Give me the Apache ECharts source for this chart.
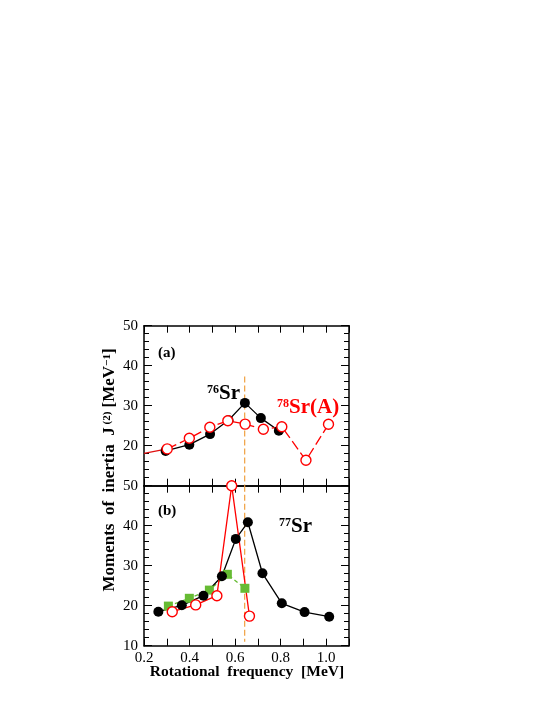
<!DOCTYPE html>
<html>
<head>
<meta charset="utf-8">
<script src="https://cdn.jsdelivr.net/npm/echarts@6/dist/echarts.min.js"></script>
<style>
  html, body { margin: 0; padding: 0; background: #fff; }
  #chart { width: 545px; height: 705px; }
</style>
</head>
<body>
<div id="chart"></div>
<script>
// panel (a): 76Sr and 78Sr(A)
const sr76Freq = [0.295, 0.399, 0.490, 0.571, 0.643, 0.713, 0.792]
const sr76J2 = [18.7, 20.25, 22.9, 26.35, 30.7, 26.9, 23.75]
const sr78Freq = [0.302, 0.399, 0.489, 0.568, 0.644, 0.724, 0.805, 0.911, 1.010]
const sr78J2 = [19.2, 21.85, 24.6, 26.25, 25.4, 24.1, 24.75, 16.35, 25.35]
const leadFreq = [0.2, 0.302]
const leadJ2 = [18.1, 19.2]

// panel (b): 77Sr bands
const sr77Freq = [0.263, 0.366, 0.461, 0.542, 0.603, 0.656, 0.720, 0.805, 0.905, 1.013]
const sr77J2 = [18.5, 20.1, 22.5, 27.35, 36.7, 40.85, 28.1, 20.6, 18.4, 17.25]
const redBFreq = [0.324, 0.427, 0.520, 0.585, 0.663]
const redBJ2 = [18.5, 20.2, 22.5, 50.0, 17.4]
const greenFreq = [0.307, 0.399, 0.487, 0.566, 0.643]
const greenJ2 = [19.9, 21.85, 23.9, 27.85, 24.35]

// orange marker line
const markFreq = 0.642
const markTopJ2 = [37.3, 10]
const markBotJ2 = [50, 11]

const xTicks = [0.2, 0.4, 0.6, 0.8, 1.0]

const FONT = 'Liberation Serif'
const zip = (xs, ys) => xs.map((x, i) => [x, ys[i]])

const chart = echarts.init(document.getElementById('chart'))

const frame = { show: true, lineStyle: { color: '#000', width: 1.5 } }

const mkX = (grid, pos, labels) => ({
  type: 'value', gridIndex: grid, position: pos, min: 0.2, max: 1.1, interval: 0.1,
  axisLine: frame,
  axisTick: { show: true, inside: true, length: 7, lineStyle: { color: '#000', width: 1 } },
  axisLabel: {
    show: labels, color: '#000', fontFamily: FONT, fontSize: 15, margin: 5,
    formatter: v => xTicks.some(t => Math.abs(t - v) < 1e-6) ? v.toFixed(1) : ''
  },
  splitLine: { show: false }
})

const mkY = (grid, pos, labels, hideTen) => ({
  type: 'value', gridIndex: grid, position: pos, min: 10, max: 50, interval: 10,
  axisLine: frame,
  axisTick: { show: true, inside: true, length: 8, lineStyle: { color: '#000', width: 1 } },
  minorTick: { show: true, splitNumber: 5, length: 5, lineStyle: { color: '#000', width: 1 } },
  axisLabel: {
    show: labels, color: '#000', fontFamily: FONT, fontSize: 15, margin: 6,
    formatter: v => (hideTen && v === 10) ? '' : String(v)
  },
  splitLine: { show: false }
})

const blackStyle = {
  type: 'line', symbol: 'circle', symbolSize: 10,
  itemStyle: { color: '#000' }, lineStyle: { color: '#000', width: 1.3 }
}
const redStyle = {
  type: 'line', symbol: 'circle', symbolSize: 10,
  itemStyle: { color: '#fff', borderColor: '#ff0000', borderWidth: 1.4 },
  lineStyle: { color: '#ff0000', width: 1.3 }
}
const orangeLine = {
  type: 'line', symbol: 'none', silent: true,
  lineStyle: { color: '#f0a040', width: 1.2, type: [6, 3] }
}

chart.setOption({
  animation: false,
  grid: [
    { left: 144, top: 325.7, width: 205, height: 160 },
    { left: 144, top: 485.7, width: 205, height: 160 }
  ],
  xAxis: [mkX(0, 'bottom', false), mkX(0, 'top', false), mkX(1, 'bottom', true), mkX(1, 'top', false)],
  yAxis: [mkY(0, 'left', true, true), mkY(0, 'right', false), mkY(1, 'left', true, false), mkY(1, 'right', false)],
  series: [
    // panel (a)
    { ...orangeLine, xAxisIndex: 0, yAxisIndex: 0, data: markTopJ2.map(v => [markFreq, v]) },
    { type: 'line', symbol: 'none', xAxisIndex: 0, yAxisIndex: 0, lineStyle: { color: '#e01010', width: 1.3 }, data: zip(leadFreq, leadJ2) },
    { ...blackStyle, name: '76Sr', xAxisIndex: 0, yAxisIndex: 0, data: zip(sr76Freq, sr76J2) },
    { ...redStyle, name: '78Sr(A)', xAxisIndex: 0, yAxisIndex: 0,
      lineStyle: { color: '#ff0000', width: 1.3, type: [10, 4] }, data: zip(sr78Freq, sr78J2) },
    // panel (b)
    { ...orangeLine, xAxisIndex: 2, yAxisIndex: 2, data: markBotJ2.map(v => [markFreq, v]) },
    { type: 'line', symbol: 'rect', symbolSize: 9, xAxisIndex: 2, yAxisIndex: 2,
      itemStyle: { color: '#66bb33' }, lineStyle: { color: '#66bb33', width: 1.3, type: [4, 3] },
      data: zip(greenFreq, greenJ2) },
    { ...blackStyle, name: '77Sr', xAxisIndex: 2, yAxisIndex: 2, data: zip(sr77Freq, sr77J2) },
    { ...redStyle, xAxisIndex: 2, yAxisIndex: 2, clip: false, data: zip(redBFreq, redBJ2) }
  ],
  graphic: [
    { type: 'text', left: 158, top: 346, style: { text: '(a)', font: 'bold 15px ' + FONT, fill: '#000' } },
    { type: 'text', left: 158, top: 504, style: { text: '(b)', font: 'bold 15px ' + FONT, fill: '#000' } },
    { type: 'text', x: 207, y: 394, style: {
      text: '{s|76}{b|Sr}', verticalAlign: 'middle', fill: '#000',
      rich: { s: { fontSize: 12, fontWeight: 'bold', fontFamily: FONT, verticalAlign: 'top' },
              b: { fontSize: 21, fontWeight: 'bold', fontFamily: FONT } } } },
    { type: 'text', x: 277, y: 408, style: {
      text: '{s|78}{b|Sr(A)}', verticalAlign: 'middle', fill: '#ff0000',
      rich: { s: { fontSize: 12, fontWeight: 'bold', fontFamily: FONT, verticalAlign: 'top', color: '#ff0000' },
              b: { fontSize: 21, fontWeight: 'bold', fontFamily: FONT, color: '#ff0000' } } } },
    { type: 'text', x: 279, y: 527, style: {
      text: '{s|77}{b|Sr}', verticalAlign: 'middle', fill: '#000',
      rich: { s: { fontSize: 12, fontWeight: 'bold', fontFamily: FONT, verticalAlign: 'top' },
              b: { fontSize: 21, fontWeight: 'bold', fontFamily: FONT } } } },
    { type: 'text', x: 110, y: 470, rotation: Math.PI / 2, style: {
      text: '{a|Moments  of  inertia  J}{s| (2)}{a| [MeV}{s|−1}{a|]}',
      align: 'center', verticalAlign: 'middle', fill: '#000',
      rich: { a: { fontSize: 17, fontWeight: 'bold', fontFamily: FONT },
              s: { fontSize: 11, fontWeight: 'bold', fontFamily: FONT, verticalAlign: 'top' } } } },
    { type: 'text', x: 247, y: 672, style: {
      text: 'Rotational  frequency  [MeV]', align: 'center', verticalAlign: 'middle',
      font: 'bold 15.5px ' + FONT, fill: '#000' } }
  ]
})
</script>
</body>
</html>
